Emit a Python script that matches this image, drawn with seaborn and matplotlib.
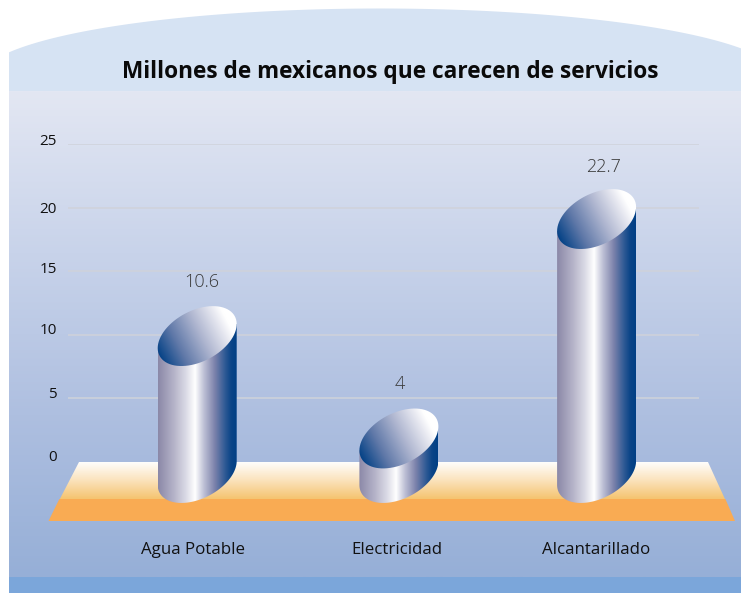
import numpy as np
import pandas as pd
import seaborn as sns
import matplotlib
matplotlib.use("Agg")
import matplotlib.pyplot as plt
from matplotlib.colors import LinearSegmentedColormap
from matplotlib.patches import Polygon, Rectangle
from matplotlib.path import Path
from matplotlib.transforms import ScaledTranslation

# ---- data -------------------------------------------------------------
title = "Millones de mexicanos que carecen de servicios"
categories = ["Agua Potable", "Electricidad", "Alcantarillado"]
printed_values = ["10.6", "4", "22.7"]          # numbers printed above the cylinders
drawn_tops = [9.9, 1.85, 19.1]                  # where cylinders actually end on the axis
y_ticks = [0, 5, 10, 15, 20, 25]

# ---- style ------------------------------------------------------------
W, H = 741, 593
BASE = -0.865
A, B, THETA = 42.5, 25.5, np.radians(27.5)
FONT = "Open Sans"

sns.set_theme(style="white")
plt.rcParams["font.family"] = [FONT, "DejaVu Sans"]
fig = plt.figure(figsize=(W / 100, H / 100), dpi=100, facecolor="white")

# ---- decorative backdrop, in pixel coordinates ------------------------
bg = fig.add_axes([0, 0, 1, 1], zorder=0)
bg.set_xlim(0, W)
bg.set_ylim(H, 0)
bg.axis("off")

grad = LinearSegmentedColormap.from_list("bg", ["#e3e7f3", "#c8d3ea", "#aebfe0", "#96afd7"])
bg.imshow(np.linspace(0, 1, 256)[:, None], cmap=grad, aspect="auto",
          extent=(9, W, 577, 91), zorder=1)
xs = np.linspace(9, W, 200)
arc = 8.5 + 70 * (1 - np.sqrt(1 - ((xs - 380) / 400) ** 2))
bg.add_patch(Polygon(np.r_[np.c_[xs, arc], [[W, 91], [9, 91]]], fc="#d6e3f3", ec="none", zorder=2))
bg.add_patch(Rectangle((9, 577), W - 9, 16, fc="#7ba6da", ec="none", zorder=2))


def plat_x(y, x_top, x_bot):
    return x_top + (x_bot - x_top) * (y - 462) / (521 - 462)


l_mid, r_mid = plat_x(500, 79, 48.5), plat_x(500, 708, 735)
bg.add_patch(Polygon([[l_mid, 499], [r_mid, 499], [735, 521], [48.5, 521]], fc="#f9ab53", ec="none", zorder=2))
plat = LinearSegmentedColormap.from_list("plat", ["#ffffff", "#fbe3bd", "#f5c470"])
im = bg.imshow(np.linspace(0, 1, 64)[:, None], cmap=plat, aspect="auto",
               extent=(40, 740, 499.5, 462), zorder=2)
im.set_clip_path(Polygon([[79, 462], [708, 462], [r_mid, 500], [l_mid, 500]], transform=bg.transData))
bg.set_xlim(0, W)
bg.set_ylim(H, 0)

# ---- chart axes --------------------------------------------------------
left, right, top, bottom = 68, 699, 144, 521
ax = fig.add_axes([left / W, 1 - bottom / H, (right - left) / W, (bottom - top) / H], zorder=1)
ax.patch.set_visible(False)

df = pd.DataFrame({"servicio": categories, "valor": drawn_tops})
sns.barplot(data=df, x="servicio", y="valor", order=categories, width=0.392,
            color="#8f8cae", ax=ax, zorder=3)

px_x = 199.7
xlim = ((left - 197.2) / px_x, (right - 197.2) / px_x)
px_y = (462 - 144) / 25
ylim = ((462 - bottom) / px_y, 25)
ax.set_xlim(*xlim)
ax.set_ylim(*ylim)

side = LinearSegmentedColormap.from_list(
    "side",
    [(0, "#8b88a8"), (0.2, "#b5b3c8"), (0.36, "#dcdce7"), (0.47, "#ffffff"), (0.58, "#bfc1d6"),
     (0.72, "#7c82ab"), (0.85, "#2f5a95"), (0.93, "#0a4487"), (1, "#023f85")])
cap = LinearSegmentedColormap.from_list(
    "cap", [(0, "#064387"), (0.25, "#5f78a8"), (0.55, "#afb6d0"), (0.8, "#e8e9f1"), (0.9, "#ffffff"), (1, "#ffffff")])


def ellipse_offsets(t):
    dx = A * np.cos(t) * np.cos(THETA) - B * np.sin(t) * np.sin(THETA)
    dy = A * np.cos(t) * np.sin(THETA) + B * np.sin(t) * np.cos(THETA)
    return dx / px_x, dy / px_y


t_left = np.arctan2(-B * np.sin(THETA), A * np.cos(THETA)) + np.pi
t_right = t_left - np.pi
bar_nudge_px = [0, 2, 0]
for bar, nudge in zip(ax.patches, bar_nudge_px):
    x0, w = bar.get_x(), bar.get_width()
    xc, ytop = x0 + w / 2 + nudge / px_x, bar.get_height()
    bar.set_visible(False)

    t_low = np.linspace(t_left, t_right + 2 * np.pi, 80)
    dx, dy = ellipse_offsets(t_low)
    low = np.c_[xc + dx, BASE + dy]
    dx, dy = ellipse_offsets(np.array([t_right, t_left]))
    up = np.c_[xc + dx, ytop + dy]
    outline = np.r_[low, up, low[:1]]
    body = ax.imshow(np.linspace(0, 1, 256)[None, :], cmap=side, aspect="auto", origin="lower",
                     extent=(outline[:, 0].min(), outline[:, 0].max(), BASE - 4, ytop + 4), zorder=3)
    body.set_clip_path(Path(outline), ax.transData)

    gx = np.linspace(-45, 45, 240)
    gy = np.linspace(-35, 35, 240)
    X, Y = np.meshgrid(gx, gy)
    u = ((X * np.cos(THETA) + Y * np.sin(THETA)) / A + 1) / 2
    head = ax.imshow(u, cmap=cap, vmin=0, vmax=1, aspect="auto", origin="lower",
                     extent=(xc - 45 / px_x, xc + 45 / px_x, ytop - 35 / px_y, ytop + 35 / px_y), zorder=4)
    dx, dy = ellipse_offsets(np.linspace(0, 2 * np.pi, 160))
    head.set_clip_path(Path(np.c_[xc + dx, ytop + dy]), ax.transData)

ax.set_xlim(*xlim)
ax.set_ylim(*ylim)

# printed values, placed above each cylinder
label_offsets = [(5, 54), (2.5, 54.5), (6.5, 52)]
for i, (txt, val) in enumerate(zip(printed_values, drawn_tops)):
    ax.annotate(txt, (i, val), xytext=label_offsets[i], textcoords="offset pixels", ha="center", va="center",
                fontsize=13, fontweight=300, color="#3a3a3a", family=FONT, zorder=6, annotation_clip=False)

ax.set_yticks(y_ticks)
ax.set_yticklabels([str(v) for v in y_ticks], fontsize=11, color="#111111", family=FONT)
ax.set_xticks(range(len(categories)))
ax.set_xticklabels(categories, fontsize=12.2, color="#111111", family=FONT)
ax.tick_params(axis="both", length=0)
ax.tick_params(axis="y", pad=8)
ax.tick_params(axis="x", pad=15.2)
ax.set_xlabel("")
ax.set_ylabel("")
ax.yaxis.grid(True, color="#cfd2da", lw=1.1, zorder=1)
ax.xaxis.grid(False)
ax.set_axisbelow(True)
ax.yaxis.get_gridlines()[0].set_visible(False)
for s in ax.spines.values():
    s.set_visible(False)

for lab, up_px in zip(ax.get_yticklabels(), [6.5, 5.5, 6, 4, 0.5, 4.5]):
    lab.set_transform(lab.get_transform() + ScaledTranslation(0, up_px / 100, fig.dpi_scale_trans))
for lab, right_px in zip(ax.get_xticklabels(), [-4, 0, 0]):
    lab.set_transform(lab.get_transform() + ScaledTranslation(right_px / 100, 0, fig.dpi_scale_trans))

fig.text(390.5 / W, 1 - 68.5 / H, title, ha="center", va="center_baseline", fontsize=16.25, fontweight="bold",
         color="#0a0a0a", family=FONT)

fig.savefig("out.png", dpi=100, facecolor="white")
